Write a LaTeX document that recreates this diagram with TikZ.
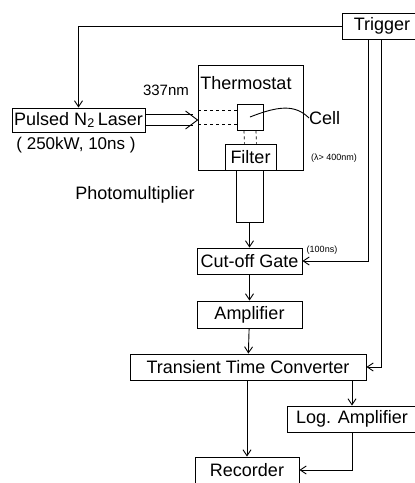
\documentclass[tikz,border=0pt]{standalone}
\usepackage{fontspec}
\setmainfont{Liberation Sans}
\usepackage{tikz}
\usetikzlibrary{positioning,arrows.meta}
\tikzset{
  flowarrow/.style={-{Straight Barb[length=6pt,width=8pt]}, line width=0.9pt},
  blockbox/.style={draw, line width=0.9pt, inner sep=0pt, align=center},
  plainlabel/.style={inner sep=0pt, font=\fontsize{18}{21}\selectfont},
  smallnote/.style={inner sep=0pt, font=\fontsize{9}{11}\selectfont}
}

\begin{document}
\begin{tikzpicture}[x=1pt, y=-1pt, every node/.style={font=\fontsize{18}{21}\selectfont}]
  \useasboundingbox (0,0) rectangle (415,483);
  % boxes
  \node[blockbox, minimum width=80pt, minimum height=26pt] (trig) at (382,26) {Trigger};
  \node[blockbox, minimum width=133pt, minimum height=24pt] (laser) at (78.5,120) {Pulsed N\textsubscript{2}\,Laser};
  \node[plainlabel, font=\fontsize{17}{20}\selectfont] (laserdata) at (76,145) {( 250kW, 10ns )};
  \node[blockbox, minimum width=105pt, minimum height=105pt] (thermo) at (250.5,117.5) {};
  \node[plainlabel] (thermolbl) at (246,83) {Thermostat};
  \node[plainlabel, font=\fontsize{15}{18}\selectfont] (wavelen) at (166,90) {337nm};
  \node[blockbox, minimum width=26pt, minimum height=26pt] (cell) at (250,117) {};
  \node[plainlabel, anchor=west] (celllbl) at (309,118) {Cell};
  \node[blockbox, minimum width=51pt, minimum height=26pt] (filter) at (250.5,157) {Filter};
  \node[smallnote] (cutoff) at (334,158) {(λ> 400nm)};
  \node[blockbox, minimum width=27pt, minimum height=52pt] (pm) at (249.5,196) {};
  \node[plainlabel] (pmlbl) at (135,195) {Photomultiplier};
  \node[blockbox, minimum width=105pt, minimum height=26pt] (gate) at (249.5,261) {Cut-off Gate};
  \node[smallnote] (gatetime) at (322,250) {(100ns)};
  \node[blockbox, minimum width=105pt, minimum height=27pt] (amp) at (249.5,314.5) {Amplifier};
  \node[blockbox, minimum width=236pt, minimum height=26pt] (ttc) at (248,367) {Transient Time Converter};
  \node[blockbox, minimum width=130pt, minimum height=26pt] (logamp) at (352,419) {Log. Amplifier};
  \node[blockbox, minimum width=104pt, minimum height=26pt] (rec) at (247,470) {Recorder};
  % beam into the thermostat
  \coordinate (beamend) at (thermo.west |- laser.east);
  \draw[line width=0.9pt] ([yshift=5.5pt]laser.east) -- ([yshift=5.5pt, xshift=-5pt]beamend);
  \draw[line width=0.9pt] ([yshift=-5.5pt]laser.east) -- ([yshift=-5.5pt, xshift=-5pt]beamend);
  \draw[line width=0.9pt] ([xshift=-12pt, yshift=9pt]beamend) -- (beamend) -- ([xshift=-12pt, yshift=-9pt]beamend);
  \draw[dashed, line width=0.8pt] ([yshift=6.5pt]cell.west) -- ([yshift=6.5pt]cell.west -| thermo.west);
  \draw[dashed, line width=0.8pt] ([yshift=-7.5pt]cell.west) -- ([yshift=-7.5pt]cell.west -| thermo.west);
  \draw[dashed, line width=0.8pt] ([xshift=-6pt]cell.south) -- ([xshift=-6pt]filter.north);
  \draw[dashed, line width=0.8pt] ([xshift=6pt]cell.south) -- ([xshift=6pt]filter.north);
  \draw[line width=0.9pt] (cell.center) .. controls (278,106) and (295,104) .. (celllbl.west);
  % signal path
  \draw[flowarrow] (trig.west) -| (laser.north);
  \draw[flowarrow] (pm) -- (gate);
  \draw[flowarrow] ([xshift=-14pt]trig.south) |- (gate.east);
  \draw[flowarrow] ([xshift=-1pt]trig.south) |- (ttc.east);
  \draw[flowarrow] (gate) -- (amp);
  \draw[flowarrow] (amp) -- (ttc);
  \draw[flowarrow] (ttc.south -| rec.north) -- (rec.north);
  \draw[flowarrow] (ttc.south -| logamp.north) -- (logamp.north);
  \draw[flowarrow] (logamp.south) |- (rec.east);
\end{tikzpicture}
\end{document}
